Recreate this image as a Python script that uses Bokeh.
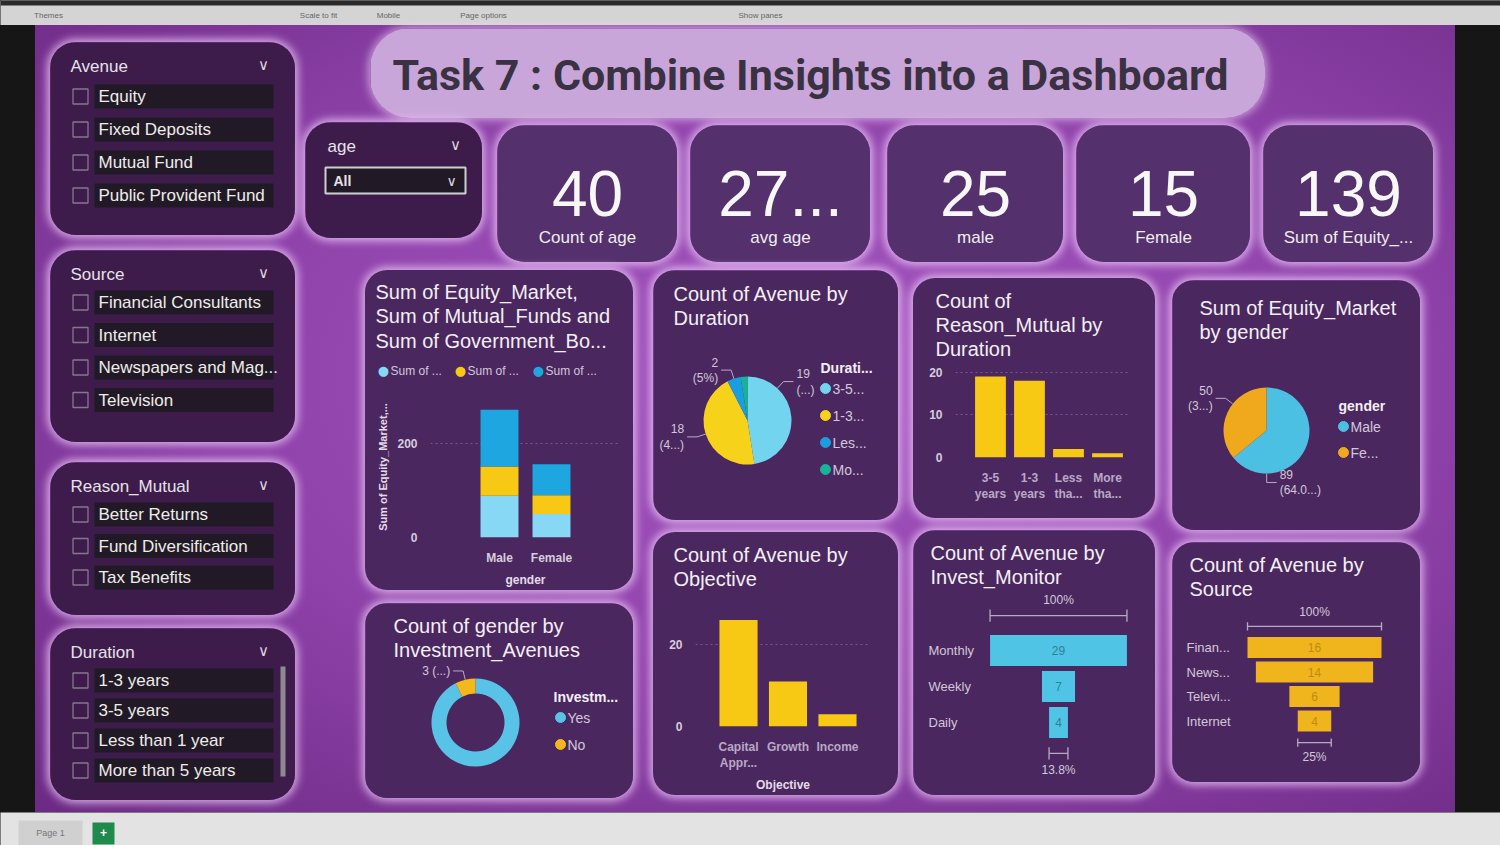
import math
from bokeh.plotting import figure
from bokeh.layouts import row, column
from bokeh.models import (Range1d, Label, Spacer, ColumnDataSource,
                          SingleIntervalTicker, FixedTicker)
from bokeh.core.properties import value
from bokeh.embed import file_html
from bokeh.resources import INLINE

# ---------------- data ----------------
dashboard_title = "Task 7 : Combine Insights into a Dashboard"
avenue_items = ["Equity", "Fixed Deposits", "Mutual Fund", "Public Provident Fund"]
source_items = ["Financial Consultants", "Internet", "Newspapers and Mag...", "Television"]
reason_items = ["Better Returns", "Fund Diversification", "Tax Benefits"]
duration_items = ["1-3 years", "3-5 years", "Less than 1 year", "More than 5 years"]
age_choice = "All"

kpi_values = ["40", "27...", "25", "15", "139"]
kpi_labels = ["Count of age", "avg age", "male", "Female", "Sum of Equity_..."]

genders = ["Male", "Female"]
equity_market = [89, 50]
mutual_funds = [62, 40]
government_bonds = [121, 66]
stack_legend = ["Sum of ...", "Sum of ...", "Sum of ..."]

duration_legend = ["3-5...", "1-3...", "Les...", "Mo..."]
avenue_by_duration = [19, 18, 2, 1]
avenue_by_duration_pct = ["(...)", "(4...)", "(5%)", ""]

duration_ticks = ["3-5\nyears", "1-3\nyears", "Less\ntha...", "More\ntha..."]
reason_by_duration = [19, 18, 2, 1]

gender_legend = ["Male", "Fe..."]
equity_by_gender = [89, 50]
equity_by_gender_pct = ["(64.0...)", "(3...)"]

invest_legend = ["Yes", "No"]
gender_by_investment = [37, 3]
gender_by_investment_pct = ["", "(...)"]

objective_ticks = ["Capital\nAppr...", "Growth", "Income"]
avenue_by_objective = [26, 11, 3]

monitor_cats = ["Monthly", "Weekly", "Daily"]
avenue_by_monitor = [29, 7, 4]

source_cats = ["Finan...", "News...", "Televi...", "Internet"]
avenue_by_source = [16, 14, 6, 4]

# ---------------- style ----------------
FONT = "Liberation Sans"
TXT = "#f2eff4"
SUB = "#d2c7da"
PANEL = "#4b275f"
SLICER = "#3d1c4c"
KPI_FILL = "#54306c"
GLOW = "0 0 9px 3px rgba(238,205,250,0.78)"
YELLOW = "#f7c914"
CYAN_L = "#86d8f4"
BLUE = "#1ea6e0"


def box_styles(radius, glow=GLOW, fill=None):
    st = {"border-radius": f"{radius}px", "overflow": "hidden"}
    if glow:
        st["box-shadow"] = glow
    if fill:
        st["background-color"] = fill
    return st


class Panel:
    def __init__(self, w, h, xr, yr, fill=PANEL, L=0, R=0, T=0, B=0,
                 axes=False, radius=22, glow=GLOW, styled=True, transparent=False):
        kw = {} if axes else dict(x_axis_location=None, y_axis_location=None)
        p = figure(width=w, height=h, x_range=xr, y_range=yr, title=None,
                   output_backend="svg", toolbar_location=None,
                   min_border_left=L, min_border_right=R,
                   min_border_top=T, min_border_bottom=B, frame_align=False, **kw)
        if transparent:
            p.background_fill_color = None
            p.border_fill_color = None
        else:
            p.background_fill_color = fill
            p.border_fill_color = fill
        p.outline_line_color = None
        p.xgrid.visible = False
        p.ygrid.visible = False
        if styled:
            p.styles = box_styles(radius, glow)
        self.p, self.w, self.h, self.L, self.T = p, w, h, L, T
        self.FH = h - T - B

    def label(self, x, y, text, size=13, color=TXT, align="left", bold=False,
              font=FONT, angle=0):
        self.p.add_layout(Label(
            x=x - self.L, y=self.FH + self.T - y, x_units="screen", y_units="screen",
            text=text, text_font=font, text_font_size=f"{size}px", text_color=color,
            text_align=align, text_baseline="middle",
            text_font_style="bold" if bold else "normal", angle=angle, angle_units="deg"))


def style_axes(p):
    for ax in p.axis:
        ax.axis_line_color = None
        ax.major_tick_line_color = None
        ax.minor_tick_line_color = None
        ax.major_label_text_color = "#d6cddc"
        ax.major_label_text_font = FONT
        ax.major_label_text_font_size = "12px"
        ax.major_label_text_font_style = "bold"
        ax.axis_label_text_color = "#e4dce8"
        ax.axis_label_text_font = FONT
        ax.axis_label_text_font_size = "12px"
        ax.axis_label_text_font_style = "bold"
        ax.major_label_standoff = 7
    p.ygrid.visible = True
    p.ygrid.grid_line_color = "#8a72a0"
    p.ygrid.grid_line_dash = "2 3"
    p.ygrid.grid_line_alpha = 0.7


def slicer(w, h, title, items, y0, dy, cb_x, tx, scrollbar=False):
    P = Panel(w, h, Range1d(0, w), Range1d(h, 0), fill=SLICER, radius=26)
    p = P.p
    ys = [y0 + i * dy for i in range(len(items))]
    p.quad(left=tx - 4, right=w - 22, top=[y - 12 for y in ys], bottom=[y + 12 for y in ys],
           fill_color="#211a26", line_color=None)
    p.rect(x=cb_x, y=ys, width=15, height=15, fill_color=None, line_color="#86778f",
           line_width=1.3)
    p.text(x=tx, y=ys, text=items, text_font=value(FONT), text_font_size="17px",
           text_color="#eeede8", text_baseline="middle")
    if scrollbar:
        p.quad(left=w - 15, right=w - 10, top=ys[0] - 14, bottom=ys[-1] + 6,
               fill_color="#8f8a92", line_color=None)
    P.label(20, 24, title, 17, "#e6e2e8")
    P.label(w - 32, 22, "∨", 15, "#dcd6e0", align="center", font="DejaVu Sans")
    return P.p


def kpi(w, val, lab):
    h = 137
    P = Panel(w, h, Range1d(0, w), Range1d(h, 0), fill=KPI_FILL, radius=28)
    P.p.text(x=[w / 2], y=[68], text=[val], text_font=value(FONT), text_font_size="64px",
             text_color="#f7f7f7", text_align="center", text_baseline="middle")
    P.p.text(x=[w / 2], y=[112], text=[lab], text_font=value(FONT), text_font_size="17px",
             text_color="#efedf0", text_align="center", text_baseline="middle")
    return P.p


def pie_panel(w, h, titles, tx, ty, cx, cy, r, vals, colors, pcts, leg_title, leg_items,
              hx, hy, lx, ly, ldy, inner=None, one_line=False, label_at=None):
    P = Panel(w, h, Range1d(0, w), Range1d(0, h))
    p = P.p
    for i, t in enumerate(titles):
        P.label(tx, ty + i * 24.5, t, 20, TXT)
    tot = float(sum(vals))
    cum = [0.0]
    for v in vals:
        cum.append(cum[-1] + v / tot)
    n = len(vals)
    label_at = label_at or [0.5] * n
    starts = [math.pi / 2 - 2 * math.pi * cum[i + 1] for i in range(n)]
    ends = [math.pi / 2 - 2 * math.pi * cum[i] for i in range(n)]
    Y = h - cy
    src = ColumnDataSource(dict(s=starts, e=ends, c=colors[:n]))
    if inner:
        p.annular_wedge(x=cx, y=Y, inner_radius=inner, outer_radius=r, start_angle="s",
                        end_angle="e", fill_color="c", line_color=None, source=src)
    else:
        p.wedge(x=cx, y=Y, radius=r, start_angle="s", end_angle="e", fill_color="c",
                line_color=None, source=src)
    for i in range(n):
        if not pcts[i]:
            continue
        a = ends[i] + (starts[i] - ends[i]) * label_at[i]
        x1, y1 = cx + r * math.cos(a), Y + r * math.sin(a)
        x2, y2 = cx + (r + 9) * math.cos(a), Y + (r + 9) * math.sin(a)
        sg = 1 if math.cos(a) >= 0 else -1
        x3 = x2 + sg * 10
        p.line([x1, x2, x3], [y1, y2, y2], line_color="#b9a9c4", line_width=1)
        al = "left" if sg > 0 else "right"
        if one_line:
            p.text(x=[x3 + sg * 3], y=[y2], text=[f"{vals[i]} {pcts[i]}"],
                   text_font=value(FONT), text_font_size="12px", text_color=SUB,
                   text_align=al, text_baseline="middle")
        else:
            p.text(x=[x3 + sg * 3, x3 + sg * 3], y=[y2 + 8, y2 - 8],
                   text=[str(vals[i]), pcts[i]], text_font=value(FONT),
                   text_font_size="12px", text_color=SUB, text_align=al,
                   text_baseline="middle")
    ys = [h - (ly + i * ldy) for i in range(n)]
    p.scatter(x=lx, y=ys, size=10, color=colors[:n])
    p.text(x=lx + 7, y=ys, text=leg_items, text_font=value(FONT), text_font_size="14px",
           text_color=SUB, text_baseline="middle")
    P.label(hx, hy, leg_title, 14, TXT, bold=True)
    return p


def funnel(w, h, titles, cats, vals, color, val_color, cx, k, y0, dy, bar_h,
           top_off, top_txt, bot_off, bot_txt, cat_x):
    P = Panel(w, h, Range1d(-cx / k, (w - cx) / k), Range1d((h - y0) / dy, -y0 / dy))
    p = P.p
    for i, t in enumerate(titles):
        P.label(17, 22 + i * 24, t, 20, TXT)
    n = len(vals)
    idx = list(range(n))
    half = [v / 2 for v in vals]
    p.hbar(y=idx, left=[-v for v in half], right=half, height=bar_h,
           fill_color=color, line_color=None)
    p.text(x=0, y=idx, text=[str(v) for v in vals], text_font=value(FONT),
           text_font_size="12px", text_color=val_color, text_align="center",
           text_baseline="middle")
    p.text(x=(cat_x - cx) / k, y=idx, text=cats, text_font=value(FONT),
           text_font_size="13px", text_color=SUB, text_baseline="middle")
    br = "#b9aac4"
    yt = -top_off
    yb = (n - 1) + bot_off
    p.segment(x0=[-half[0], -half[0], half[0]], x1=[half[0], -half[0], half[0]],
              y0=[yt, yt - 0.17, yt - 0.17], y1=[yt, yt + 0.17, yt + 0.17],
              line_color=br, line_width=1.3)
    p.segment(x0=[-half[-1], -half[-1], half[-1]], x1=[half[-1], -half[-1], half[-1]],
              y0=[yb, yb - 0.17, yb - 0.17], y1=[yb, yb + 0.17, yb + 0.17],
              line_color=br, line_width=1.3)
    pct = f"{vals[-1] / vals[0] * 100:.1f}".rstrip("0").rstrip(".") + "%"
    p.text(x=[0, 0], y=[-top_txt, n - 1 + bot_txt], text=["100%", pct],
           text_font=value(FONT), text_font_size="12px", text_color=SUB,
           text_align="center", text_baseline="middle")
    return p


def chart_box(w, h, title_fig, chart_fig):
    return column(title_fig, chart_fig, width=w, height=h,
                  styles=box_styles(22, GLOW, PANEL))


def vbars(w, h, L, R, T, B, xr, yend, interval, cats, vals, width, titles, tx, ty,
          xlabel=None):
    tp = Panel(w, T, Range1d(0, w), Range1d(0, T), styled=False, transparent=True)
    for i, t in enumerate(titles):
        tp.label(tx, ty + i * 24, t, 20, TXT)
    P = Panel(w, h - T, Range1d(*xr), Range1d(0, yend), L=L, R=R, T=0, B=B, axes=True,
              styled=False, transparent=True)
    p = P.p
    idx = list(range(len(vals)))
    p.vbar(x=idx, top=vals, width=width, fill_color=YELLOW, line_color=None)
    p.xaxis.ticker = FixedTicker(ticks=idx)
    p.xaxis.major_label_overrides = {i: c for i, c in enumerate(cats)}
    p.yaxis.ticker = SingleIntervalTicker(interval=interval, num_minor_ticks=0)
    if xlabel:
        p.xaxis.axis_label = xlabel
    style_axes(p)
    p.xaxis.major_label_text_color = "#b9a9c6"
    return chart_box(w, h, tp.p, p)


# ---------------- panels ----------------
# top strip of the report editor
tp_ = Panel(1500, 25, Range1d(0, 1500), Range1d(25, 0), fill="#d4d4d4", styled=False)
tp_.p.quad(left=0, right=1500, top=0, bottom=5, fill_color="#2a2a2a", line_color=None)
for tx_, t_ in [(48, "Themes"), (318, "Scale to fit"), (388, "Mobile"),
                (483, "Page options"), (760, "Show panes")]:
    tp_.label(tx_, 15, t_, 8, "#666666", align="center")
top_strip = tp_.p

bt = Panel(1500, 33, Range1d(0, 1500), Range1d(33, 0), fill="#e3e3e3", styled=False)
bt.p.quad(left=18, right=82, top=8, bottom=33, fill_color="#d0d0d0", line_color=None)
bt.p.quad(left=92, right=114, top=10, bottom=32, fill_color="#1f8a4c", line_color=None)
bt.label(50, 20, "Page 1", 9, "#777777", align="center")
bt.label(103, 20, "+", 12, "#ffffff", align="center", bold=True)
bottom_strip = bt.p

# slicers
s_avenue = slicer(245, 193, "Avenue", avenue_items, 54, 33, 30, 48)
s_source = slicer(245, 192, "Source", source_items, 52, 32.5, 30, 48)
s_reason = slicer(245, 153, "Reason_Mutual", reason_items, 52, 31.5, 30, 48)
s_duration = slicer(245, 172, "Duration", duration_items, 52, 30, 30, 48, scrollbar=True)

ag = Panel(177, 116, Range1d(0, 177), Range1d(116, 0), fill=SLICER, radius=26)
ag.p.quad(left=20, right=160, top=45, bottom=71, fill_color="#211a26",
          line_color="#cfcfcf", line_width=2)
ag.label(22, 24, "age", 17, "#e6e2e8")
ag.label(150, 22, "∨", 15, "#dcd6e0", align="center", font="DejaVu Sans")
ag.label(28, 58, age_choice, 14, "#e6e2e8", bold=True)
ag.label(146, 58, "∨", 14, "#dcd6e0", align="center", font="DejaVu Sans")
s_age = ag.p

# title bubble
tb = Panel(895, 90, Range1d(0, 895), Range1d(90, 0), fill="#c9a6d9", radius=40,
           glow="0 0 8px 2px rgba(240,220,248,0.6)")
tb.label(440, 46, dashboard_title, 43, "#3a3243", align="center", bold=True, font="Roboto")
title_box = tb.p

# KPI cards
kpi_w = [180, 180, 176, 174, 170]
cards = [kpi(w, v, l) for w, v, l in zip(kpi_w, kpi_values, kpi_labels)]

# stacked bar chart (title part + chart part)
W1, H1, L1, R1, T1, B1 = 268, 320, 65, 13, 126, 53
st_t = Panel(W1, T1, Range1d(0, W1), Range1d(0, T1), styled=False, transparent=True)
for i, t in enumerate(["Sum of Equity_Market,", "Sum of Mutual_Funds and",
                       "Sum of Government_Bo..."]):
    st_t.label(10, 21 + i * 24.5, t, 20, TXT)
for xx, c, t in zip([18, 95, 173], [CYAN_L, YELLOW, BLUE], stack_legend):
    st_t.label(xx, 100, "●", 13, c, align="center", font="DejaVu Sans")
    st_t.label(xx + 7, 100, t, 12, SUB)

st = Panel(W1, H1 - T1, Range1d(-1.327, 2.327), Range1d(0, 300), L=L1, R=R1, T=0, B=B1,
           axes=True, styled=False, transparent=True)
ps = st.p
src = ColumnDataSource(dict(x=list(range(len(genders))), eq=equity_market,
                            mu=mutual_funds, gv=government_bonds))
ps.vbar_stack(["eq", "mu", "gv"], x="x", width=0.73, color=[CYAN_L, YELLOW, BLUE],
              line_color=None, source=src)
ps.xaxis.ticker = FixedTicker(ticks=list(range(len(genders))))
ps.xaxis.major_label_overrides = {i: g for i, g in enumerate(genders)}
ps.yaxis.ticker = SingleIntervalTicker(interval=200, num_minor_ticks=0)
ps.xaxis.axis_label = "gender"
ps.yaxis.axis_label = "Sum of Equity_Market,..."
style_axes(ps)
ps.yaxis.axis_label_text_font_size = "11px"
stacked = chart_box(W1, H1, st_t.p, ps)

# pies
pie_dur = pie_panel(245, 250, ["Count of Avenue by", "Duration"], 20, 23, 94, 150, 44,
                    avenue_by_duration, ["#72d4ef", "#f7d21a", "#1a9ee0", "#14b497"],
                    avenue_by_duration_pct, "Durati...", duration_legend,
                    167, 97, 172, 118, 27, label_at=[0.25, 0.5, 0.5, 0.5])
pie_eq = pie_panel(248, 250, ["Sum of Equity_Market", "by gender"], 27, 27, 94, 150, 43,
                   equity_by_gender, ["#4cc0e2", "#f0a81d"], equity_by_gender_pct,
                   "gender", gender_legend, 166, 125, 171, 146, 26, label_at=[0.78, 0.6])
donut = pie_panel(268, 195, ["Count of gender by", "Investment_Avenues"], 28, 22, 110, 119,
                  44, gender_by_investment, ["#58c3e6", "#f2b81c"], gender_by_investment_pct,
                  "Investm...", invest_legend, 188, 93, 195, 114, 27, inner=29, one_line=True)

# bar charts
bar_reason = vbars(242, 240, 42, 25, 87, 61, (-0.897, 3.59), 21.6, 10, duration_ticks,
                   reason_by_duration, 0.79, ["Count of", "Reason_Mutual by", "Duration"], 22, 22)
bar_obj = vbars(245, 263, 42, 28, 71, 66, (-0.869, 2.667), 30, 20, objective_ticks,
                avenue_by_objective, 0.77, ["Count of Avenue by", "Objective"], 20, 22,
                xlabel="Objective")

# funnels
fun_mon = funnel(242, 265, ["Count of Avenue by", "Invest_Monitor"], monitor_cats,
                 avenue_by_monitor, "#4fc4e4", "#2f7f9c", 145, 4.72, 120, 36, 0.86,
                 0.97, 1.39, 0.86, 1.33, 15)
fun_src = funnel(248, 240, ["Count of Avenue by", "Source"], source_cats, avenue_by_source,
                 "#f0b41c", "#c08a12", 142, 8.375, 105, 24.5, 0.86, 0.86, 1.43, 0.88, 1.45, 14)

# ---------------- layout ----------------
left_col = column(Spacer(height=17), s_avenue, Spacer(height=15), s_source,
                  Spacer(height=20), s_reason, Spacer(height=13), s_duration)

kpi_children = [s_age]
for gap, c in zip([15, 13, 17, 13, 13], cards):
    kpi_children.append(Spacer(width=gap))
    kpi_children.append(column(Spacer(height=3), c))
kpi_row = row(*kpi_children)

col1 = column(stacked, Spacer(height=13), donut)
col2 = column(pie_dur, Spacer(height=12), bar_obj)
col3 = column(Spacer(height=8), bar_reason, Spacer(height=12), fun_mon)
col4 = column(Spacer(height=10), pie_eq, Spacer(height=12), fun_src)
charts = row(Spacer(width=60), col1, Spacer(width=20), col2, Spacer(width=15), col3,
             Spacer(width=17), col4)

right_area = column(Spacer(height=3), row(Spacer(width=65), title_box), Spacer(height=4),
                    kpi_row, Spacer(height=8), charts)

board = row(Spacer(width=15), left_col, Spacer(width=10), right_area, width=1420, height=787,
            styles={"background": "radial-gradient(ellipse at 55% 45%, #a556c0 0%, #8f42aa 55%, #6c2a84 100%)"})

root = column(top_strip,
              row(Spacer(width=35, height=787), board, Spacer(width=45, height=787)),
              bottom_strip, width=1500, height=845,
              styles={"background-color": "#161616"})

open("out.html", "w").write(file_html(root, INLINE))
